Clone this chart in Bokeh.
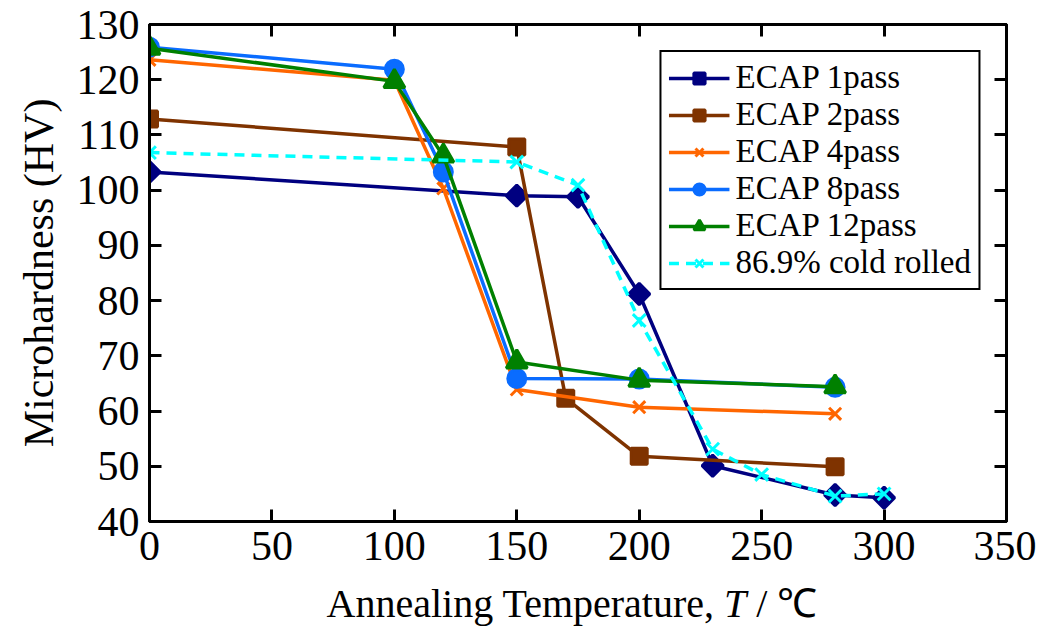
from bokeh.plotting import figure
from bokeh.models import LinearAxis, Range1d, Legend, LegendItem, FixedTicker, Div
from bokeh.layouts import column
from bokeh.embed import file_html
from bokeh.resources import INLINE
import numpy as np

# ---------------- data ----------------
x_ticks = [0, 50, 100, 150, 200, 250, 300, 350]
y_ticks = [40, 50, 60, 70, 80, 90, 100, 110, 120, 130]

t_1pass = [0, 150, 175, 200, 230, 280, 300]
hv_1pass = [103.3, 99.0, 98.8, 81.2, 50.1, 44.8, 44.3]

t_2pass = [0, 150, 170, 200, 280]
hv_2pass = [112.9, 107.8, 62.3, 51.8, 49.9]

t_4pass = [0, 100, 120, 150, 200, 280]
hv_4pass = [123.6, 119.9, 100.3, 63.9, 60.7, 59.5]

t_8pass = [0, 100, 120, 150, 200, 280]
hv_8pass = [125.9, 121.9, 103.3, 65.9, 65.8, 64.3]

t_12pass = [0, 100, 120, 150, 200, 280]
hv_12pass = [125.7, 119.7, 106.2, 68.9, 65.6, 64.4]

t_cold = [0, 150, 175, 200, 230, 250, 280, 300]
hv_cold = [106.8, 105.1, 100.9, 76.4, 53.1, 48.5, 44.6, 45.0]

labels = ["ECAP 1pass", "ECAP 2pass", "ECAP 4pass", "ECAP 8pass", "ECAP 12pass", "86.9% cold rolled"]

SERIF = "Liberation Serif"

p = figure(frame_width=857, frame_height=497,
           x_range=Range1d(0, 350), y_range=Range1d(40, 130),
           output_backend="svg", toolbar_location=None,
           min_border_left=149, min_border_right=30,
           min_border_top=24, min_border_bottom=58)

p.xgrid.visible = False
p.ygrid.visible = False
p.outline_line_color = "black"
p.outline_line_width = 3
p.background_fill_color = "white"
p.border_fill_color = "white"

def style_axis(ax, ticks, show_labels=True, size="42px"):
    ax.ticker = FixedTicker(ticks=ticks)
    ax.major_tick_in = 12
    ax.major_tick_out = 0
    ax.minor_tick_in = 0
    ax.minor_tick_out = 0
    ax.major_tick_line_width = 3
    ax.major_tick_line_color = "black"
    ax.axis_line_width = 3
    ax.axis_line_color = "black"
    ax.major_label_text_font = SERIF
    ax.major_label_text_color = "black"
    if show_labels:
        ax.major_label_text_font_size = size
    else:
        ax.major_label_text_font_size = "0px"
        ax.major_label_overrides = {t: "" for t in ticks}

style_axis(p.xaxis[0], x_ticks)
style_axis(p.yaxis[0], y_ticks)
p.xaxis[0].major_label_standoff = 10
p.yaxis[0].major_label_standoff = 10
p.yaxis[0].axis_label = "Microhardness (HV)"
p.yaxis[0].axis_label_text_font = SERIF
p.yaxis[0].axis_label_text_font_size = "42px"
p.yaxis[0].axis_label_text_font_style = "normal"
p.yaxis[0].axis_label_text_color = "black"
p.yaxis[0].axis_label_standoff = 12

top = LinearAxis()
style_axis(top, x_ticks, show_labels=False)
p.add_layout(top, "above")
right = LinearAxis()
style_axis(right, y_ticks, show_labels=False)
p.add_layout(right, "right")

series = [
    (t_1pass, hv_1pass, "#000080", "square", 15, np.pi / 4, None),
    (t_2pass, hv_2pass, "#7f3300", "square", 16, 0, None),
    (t_4pass, hv_4pass, "#ff6600", "x", 17, 0, None),
    (t_8pass, hv_8pass, "#0a6cff", "circle", 18, 0, None),
    (t_12pass, hv_12pass, "#008000", "triangle", 21, 0, None),
    (t_cold, hv_cold, "#00ffff", "x", 18, 0, "10 7"),
]

items = []
for (xs, ys, col, mk, sz, ang, dash), lab in zip(series, labels):
    lr = p.line(xs, ys, line_color=col, line_width=3.5,
                line_dash=dash if dash else "solid")
    sr = p.scatter(xs, ys, marker=mk, size=sz, angle=ang,
                   fill_color=col, line_color=col, line_width=3)
    items.append(LegendItem(label=lab, renderers=[lr, sr]))

legend = Legend(items=items, location="top_right")
legend.margin = 26
legend.label_text_font = SERIF
legend.label_text_font_size = "33px"
legend.label_text_color = "black"
legend.glyph_width = 61
legend.glyph_height = 28
legend.label_height = 28
legend.label_standoff = 6
legend.spacing = -2
legend.padding = 7
legend.border_line_color = "black"
legend.border_line_alpha = 1
legend.border_line_width = 2.5
legend.background_fill_alpha = 1
p.add_layout(legend, "center")

xlabel = Div(text="Annealing Temperature, <i>T</i> / \u2103",
             width=1036, height=45,
             styles={"font-family": "'Liberation Serif', serif",
                     "font-size": "40px", "line-height": "40px",
                     "text-align": "center", "color": "black",
                     "padding-left": "98px", "box-sizing": "border-box",
                     "white-space": "nowrap"})

layout = column(p, xlabel, spacing=0)
open("out.html", "w").write(file_html(layout, INLINE))
